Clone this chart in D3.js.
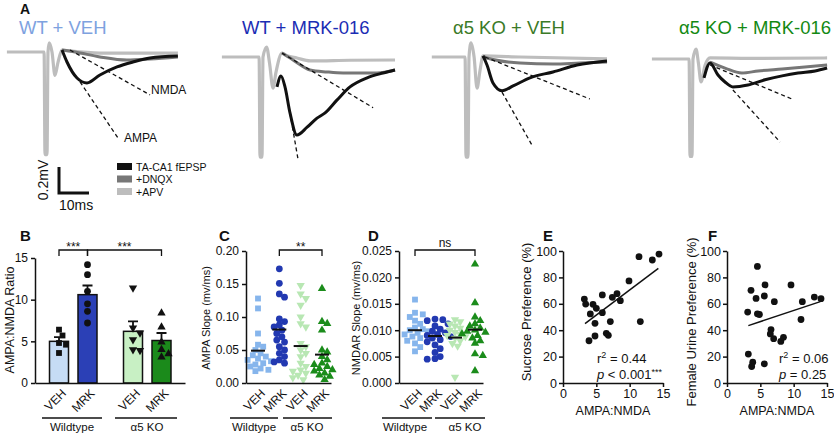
<!DOCTYPE html>
<html><head><meta charset="utf-8">
<script src="https://cdn.jsdelivr.net/npm/d3@7"></script>
<style>
body{margin:0;background:#fff}
svg{display:block}
text{font-family:"Liberation Sans",Arial,sans-serif;fill:#111}
</style>
</head><body>
<svg id="c" width="834" height="435"></svg>
<script>
// ================= DATA =================
// Panel A: traces, [time ms after stimulus, mV relative to baseline]
const traceTitles = ["WT + VEH", "WT + MRK-016", "α5 KO + VEH", "α5 KO + MRK-016"];
const legendLabels = ["TA-CA1 fEPSP", "+DNQX", "+APV"];

const apv_WT_VEH = [[-12.7,0],[-0.3,0],[0,-0.79],[0.67,-0.79],[1.0,0],[1.4,0.07],[2.33,0],[3.33,-0.18],[4.33,-0.08],[5.67,0.015],[8.3,0.008],[18.3,-0.008],[44.3,-0.008]];
const dnqx_WT_VEH = [[5.67,0.015],[10,0],[18.3,-0.038],[27.3,-0.062],[35,-0.054],[44.3,-0.038]];
const fepsp_WT_VEH = [[5.67,0.015],[7.33,-0.077],[10.67,-0.2],[14,-0.238],[18.3,-0.177],[24,-0.115],[29.3,-0.077],[35,-0.046],[44.3,-0.031]];
const nmdaFit_WT_VEH = [[8.33,0.015],[35,-0.33]];
const ampaFit_WT_VEH = [[11.67,-0.23],[24.3,-0.66]];

const apv_WT_MRK = [[-12.7,0],[-0.3,0],[0,-0.77],[0.67,-0.77],[1.0,0],[2.2,0.077],[3.2,-0.05],[4.33,-0.24],[5.3,-0.12],[7.33,0.03],[9,0.01],[12.3,-0.008],[16.7,-0.03],[30,-0.025],[45,-0.023]];
const dnqx_WT_MRK = [[7.33,0.03],[11,-0.023],[16.7,-0.1],[22.3,-0.115],[27.7,-0.123],[33.3,-0.123],[39,-0.123],[45,-0.1]];
const fepsp_WT_MRK = [[5.67,-0.23],[7,-0.146],[8.33,-0.23],[10,-0.43],[12.3,-0.6],[15.7,-0.54],[19,-0.47],[21.7,-0.43],[25.7,-0.33],[30,-0.23],[35.7,-0.16],[41,-0.123],[45,-0.1]];
const nmdaFit_WT_MRK = [[7.33,0.03],[37.7,-0.39]];
const ampaFit_WT_MRK = [[10,-0.43],[12.7,-0.79]];

const apv_KO_VEH = [[-11.4,0],[-0.3,0],[0,-0.77],[0.67,-0.77],[1.0,0],[1.67,0.108],[2.7,0],[3.67,-0.24],[4.7,-0.1],[5.67,0.008],[18,0],[47,-0.015]];
const dnqx_KO_VEH = [[5.67,0.008],[7,-0.008],[18,-0.046],[29,-0.054],[38,-0.046],[47,-0.038]];
const fepsp_KO_VEH = [[5.67,0.008],[7,-0.062],[9,-0.2],[12,-0.26],[15.7,-0.223],[21.3,-0.16],[29,-0.115],[37,-0.062],[47,-0.031]];
const nmdaFit_KO_VEH = [[6.33,0],[41.3,-0.323]];
const ampaFit_KO_VEH = [[12,-0.27],[22.3,-0.69]];

const apv_KO_MRK = [[-12.7,0],[-0.3,0],[0,-0.75],[0.67,-0.75],[1.0,0],[2,0.077],[2.8,-0.03],[3.67,-0.177],[5,-0.05],[6.67,0.008],[20,0.005],[45.7,0.008]];
const dnqx_KO_MRK = [[6.67,-0.023],[7.33,-0.03],[11.67,-0.07],[17.3,-0.108],[22.7,-0.092],[30.7,-0.077],[38.3,-0.062],[45.7,-0.046]];
const fepsp_KO_MRK = [[4.67,-0.146],[6.67,-0.03],[9.33,-0.123],[11.67,-0.177],[14.3,-0.215],[19.3,-0.2],[25,-0.16],[30.7,-0.13],[36,-0.108],[41.7,-0.092],[45.7,-0.069]];
const nmdaFit_KO_MRK = [[6.67,-0.046],[34,-0.308]];
const ampaFit_KO_MRK = [[14.3,-0.238],[30,-0.638]];

const scaleBarMs = 10, scaleBarMv = 0.2;

// Panels B-D
const groups = ["Wildtype", "α5 KO"];
const treatments = ["VEH", "MRK"];
const bMeans = [5.0, 10.6, 6.2, 5.1];
const bSem = [0.5, 1.1, 1.2, 0.9];
const bPts_WT_VEH = [6.4, 5.7, 4.8, 4.6, 3.6];
const bPts_WT_MRK = [14.2, 13.0, 11.0, 9.5, 8.6, 7.2];
const bPts_KO_VEH = [11.4, 6.6, 6.0, 5.2, 4.0, 3.9];
const bPts_KO_MRK = [8.4, 6.7, 4.9, 4.0, 3.5, 3.1];
const bTicks = [0, 5, 10, 15];

const cWT_VEH = [0.128,0.113,0.075,0.058,0.055,0.050,0.045,0.042,0.040,0.037,0.035,0.033,0.030,0.028,0.025,0.022,0.020,0.018];
const cWT_MRK = [0.173,0.151,0.135,0.130,0.097,0.093,0.088,0.085,0.080,0.075,0.070,0.065,0.062,0.055,0.050,0.045,0.040,0.035,0.032,0.030];
const cKO_VEH = [0.148,0.135,0.128,0.118,0.100,0.090,0.085,0.060,0.055,0.050,0.045,0.040,0.030,0.025,0.020,0.018,0.015,0.012,0.008,0.005];
const cKO_MRK = [0.143,0.093,0.090,0.080,0.050,0.047,0.040,0.035,0.030,0.028,0.025,0.022,0.020,0.018,0.015,0.012,0.010,0.005];
const cMeans = [0.049, 0.081, 0.056, 0.043];
const cTicks = [0, 0.05, 0.10, 0.15, 0.20];

const dWT_VEH = [0.0158,0.0133,0.0130,0.0125,0.0118,0.0112,0.0105,0.0102,0.0100,0.0098,0.0095,0.0092,0.0088,0.0085,0.0080,0.0075,0.0068,0.0060];
const dWT_MRK = [0.0121,0.0120,0.0118,0.0112,0.0108,0.0102,0.0098,0.0095,0.0092,0.0090,0.0088,0.0085,0.0082,0.0078,0.0072,0.0065,0.0058,0.0050,0.0046,0.0045];
const dKO_VEH = [0.0120,0.0116,0.0112,0.0108,0.0104,0.0100,0.0096,0.0092,0.0090,0.0088,0.0085,0.0080,0.0075,0.0070,0.0011];
const dKO_MRK = [0.0225,0.0152,0.0125,0.0118,0.0112,0.0108,0.0104,0.0100,0.0098,0.0096,0.0093,0.0090,0.0085,0.0080,0.0075,0.0055,0.0052,0.0023];
const dMeans = [0.0100, 0.0089, 0.0086, 0.0101];
const dTicks = [0, 0.005, 0.010, 0.015, 0.020, 0.025];

const sigLabels = ["***", "***", "**", "ns"];

// Panels E-F
const eX = [3.2,3.4,4.5,5.0,4.1,5.9,5.9,4.8,7.4,8.1,8.6,9.9,11.4,13.4,14.4,11.6,3.9,4.8,7.1,6.5,6.8];
const eY = [63.6,59.8,59.6,56.6,52.3,66.7,53.3,45.2,64.9,67.7,62.4,77.3,95.7,93.2,97.7,46.5,32,35.6,46.5,37.6,36.1];
const eFit = {intercept: 32.5, slope: 3.8, from: 3.3, to: 14.3};
const eStats = ["0.44", "< 0.001", "***"];
const fX = [4.56,3.6,4.36,5.7,5.6,3.1,4.56,4.86,7.1,9.6,11.3,13.1,14.1,11.1,6.6,6.5,7.0,8.07,8.47,3.2,3.86,3.7,5.6];
const fY = [88.3,70.2,64.1,74.3,65.9,53.7,52.4,51.9,61.6,74.3,61.6,65.1,63.9,48.1,40.5,37.2,33.6,31.5,34.6,21.9,15.8,12.5,14.5];
const fFit = {intercept: 38.1, slope: 1.68, from: 3.2, to: 14.0};
const fStats = ["0.06", "= 0.25", ""];
const xyTicksX = [0, 5, 10, 15];
const xyTicksY = [0, 20, 40, 60, 80, 100];

// ================= STYLE =================
const titleColors = ["#7ea2df", "#1b2db4", "#3b7a27", "#138913"];
const traceColors = {apv: "#bdbdbd", dnqx: "#777777", fepsp: "#111111"};
const barFill = ["#c6dcf5", "#2b40b6", "#c8f0c4", "#1b8a1b"];
const ptFill = ["#86b5ec", "#2239b1", "#b8e7b3", "#1b8c1b"];

const svg = d3.select("#c");

function txt(x, y, s, size, opts = {}) {
  const t = svg.append("text").attr("x", x).attr("y", y).attr("font-size", size).text(s);
  if (opts.anchor) t.attr("text-anchor", opts.anchor);
  if (opts.bold) t.attr("font-weight", "bold");
  if (opts.fill) t.style("fill", opts.fill);
  if (opts.transform) t.attr("transform", opts.transform).attr("x", null).attr("y", null);
  return t;
}

// ================= PANEL A =================
txt(20, 14, "A", 14, {bold: true});
const traceSets = [
  {apv: apv_WT_VEH, dnqx: dnqx_WT_VEH, fepsp: fepsp_WT_VEH, nmda: nmdaFit_WT_VEH, ampa: ampaFit_WT_VEH},
  {apv: apv_WT_MRK, dnqx: dnqx_WT_MRK, fepsp: fepsp_WT_MRK, nmda: nmdaFit_WT_MRK, ampa: ampaFit_WT_MRK},
  {apv: apv_KO_VEH, dnqx: dnqx_KO_VEH, fepsp: fepsp_KO_VEH, nmda: nmdaFit_KO_VEH, ampa: ampaFit_KO_VEH},
  {apv: apv_KO_MRK, dnqx: dnqx_KO_MRK, fepsp: fepsp_KO_MRK, nmda: nmdaFit_KO_MRK, ampa: ampaFit_KO_MRK}
];
const stimX = [45, 260, 466, 690];
const baseY = [52, 57, 57, 59];
const titleX = [19, 242, 453, 679];
const pxPerMs = 3, pxPerMv = 130;

traceSets.forEach((ts, i) => {
  const xs = d3.scaleLinear().domain([0, 1]).range([stimX[i], stimX[i] + pxPerMs]);
  const ys = d3.scaleLinear().domain([0, 1]).range([baseY[i], baseY[i] - pxPerMv]);
  const line = d3.line().x(d => xs(d[0])).y(d => ys(d[1])).curve(d3.curveMonotoneX);
  const g = svg.append("g");
  g.append("path").attr("d", line(ts.apv)).attr("fill", "none").attr("stroke", traceColors.apv).attr("stroke-width", 3.2).attr("stroke-linejoin", "round");
  g.append("path").attr("d", line(ts.dnqx)).attr("fill", "none").attr("stroke", traceColors.dnqx).attr("stroke-width", 3).attr("stroke-linejoin", "round");
  g.append("path").attr("d", line(ts.fepsp)).attr("fill", "none").attr("stroke", traceColors.fepsp).attr("stroke-width", 3).attr("stroke-linejoin", "round");
  const lin = d3.line().x(d => xs(d[0])).y(d => ys(d[1]));
  [ts.nmda, ts.ampa].forEach(f => {
    g.append("path").attr("d", lin(f)).attr("fill", "none").attr("stroke", "#111").attr("stroke-width", 1.3).attr("stroke-dasharray", "4,3");
  });
  txt(titleX[i], 33.5, traceTitles[i], 18.5, {fill: titleColors[i]});
  if (i === 0) {
    txt(xs(ts.nmda[1][0]) + 1, ys(ts.nmda[1][1]) - 1, "NMDA", 12);
    txt(xs(ts.ampa[1][0]) + 6, ys(ts.ampa[1][1]) + 4, "AMPA", 12);
    // scale bar
    const sbx = d3.scaleLinear().domain([0, 1]).range([59, 59 + pxPerMs]);
    const sby = d3.scaleLinear().domain([0, 1]).range([193, 193 - pxPerMv]);
    svg.append("path")
      .attr("d", `M${sbx(0)},${sby(scaleBarMv)}L${sbx(0)},${sby(0)}L${sbx(scaleBarMs)},${sby(0)}`)
      .attr("fill", "none").attr("stroke", "#111").attr("stroke-width", 3);
    txt(0, 0, scaleBarMv + "mV", 14, {anchor: "middle", transform: `translate(48,${(sby(0) + sby(scaleBarMv)) / 2}) rotate(-90)`});
    txt(sbx(0), 210, scaleBarMs + "ms", 14);
  }
});
// legend
const legColors = [traceColors.fepsp, traceColors.dnqx, traceColors.apv];
legendLabels.forEach((l, i) => {
  svg.append("rect").attr("x", 117).attr("y", 163 + i * 12.5).attr("width", 15).attr("height", 7).attr("fill", legColors[i]);
  txt(136, 170.5 + i * 12.5, l, 10.5);
});

// ================= helpers =================
function swarm(values, y, cx, size, step) {
  const pts = values.map(v => ({v, py: y(v)})).sort((a, b) => a.py - b.py);
  const placed = [];
  pts.forEach(p => {
    for (let k = 0; k < 40; k++) {
      const off = k === 0 ? 0 : (k % 2 ? 1 : -1) * Math.ceil(k / 2) * step;
      const x = cx + off;
      if (placed.every(q => Math.hypot(q.px - x, q.py - p.py) >= size)) { p.px = x; placed.push(p); break; }
    }
  });
  return placed;
}
const symbolTypes = [d3.symbolSquare, d3.symbolCircle, d3.symbolTriangle, d3.symbolTriangle];
const symbolSizes = [34, 36, 30, 30];
const symbolRot = [0, 0, 180, 0];
function drawPoints(pts, k, fill) {
  const sym = d3.symbol().type(symbolTypes[k]).size(symbolSizes[k]);
  svg.append("g").selectAll("path").data(pts).join("path")
    .attr("d", sym)
    .attr("transform", d => `translate(${d.px},${d.py}) rotate(${symbolRot[k]})`)
    .attr("fill", fill);
}
function styleAxis(g) {
  g.select(".domain").attr("stroke", "#111").attr("stroke-width", 1.5);
  g.selectAll(".tick line").attr("stroke", "#111").attr("stroke-width", 1.5);
  g.selectAll(".tick text").attr("font-size", 12).style("fill", "#111").attr("font-family", '"Liberation Sans",Arial,sans-serif');
}
function bracket(x1, x2, y, label, size) {
  svg.append("path").attr("d", `M${x1},${y + 6}V${y}H${x2}V${y + 6}`).attr("fill", "none").attr("stroke", "#111").attr("stroke-width", 1.3);
  txt((x1 + x2) / 2, label === "ns" ? y - 3 : y + 1, label, size, {anchor: "middle"});
}
function catLabels(xpos, labels) {
  labels.forEach((l, i) => {
    txt(0, 0, l, 12, {anchor: "end", transform: `translate(${xpos[i] + 8},394) rotate(-45)`});
  });
}
function groupLines(segs) {
  segs.forEach(s => {
    svg.append("line").attr("x1", s[0]).attr("x2", s[1]).attr("y1", 418).attr("y2", 418).attr("stroke", "#111").attr("stroke-width", 1.5);
    txt(s[2], 431, s[3], 11.5, {anchor: "middle"});
  });
}
function yTitle(x, yc, s, size) {
  txt(0, 0, s, size, {anchor: "middle", transform: `translate(${x},${yc}) rotate(-90)`});
}

// ================= PANEL B =================
txt(20, 241, "B", 15, {bold: true});
const bGX = d3.scalePoint().domain(groups).range([73.25, 147.25]);
const bTX = d3.scalePoint().domain(treatments).range([-14.25, 14.25]);
const bY = d3.scaleLinear().domain([0, 15]).range([383, 258]);
const bCats = [];
groups.forEach(g => treatments.forEach(t => bCats.push(bGX(g) + bTX(t))));
const bPts = [bPts_WT_VEH, bPts_WT_MRK, bPts_KO_VEH, bPts_KO_MRK];
const bSym = [0, 1, 2, 3];
bMeans.forEach((m, i) => {
  svg.append("rect").attr("x", bCats[i] - 9.5).attr("y", bY(m)).attr("width", 19).attr("height", bY(0) - bY(m))
    .attr("fill", barFill[i]).attr("stroke", "#111").attr("stroke-width", 1.5);
  svg.append("path").attr("d", `M${bCats[i]},${bY(m)}V${bY(m + bSem[i])}M${bCats[i] - 5},${bY(m + bSem[i])}H${bCats[i] + 5}`)
    .attr("stroke", "#111").attr("stroke-width", 1.8).attr("fill", "none");
  drawPoints(swarm(bPts[i], bY, bCats[i], 6.5, 3.5), bSym[i], "#111");
});
const bAx = svg.append("g").attr("transform", "translate(35,0)").call(d3.axisLeft(bY).tickValues(bTicks).tickSize(4).tickSizeOuter(0).tickPadding(3));
styleAxis(bAx);
const bXs = d3.scaleLinear().domain([0, 1]).range([35, 185]);
const bXa = svg.append("g").attr("transform", `translate(0,${bY(0)})`).call(d3.axisBottom(bXs).tickValues([]).tickSizeOuter(0));
styleAxis(bXa);
yTitle(14, 320, "AMPA:NMDA Ratio", 12.5);
catLabels(bCats, ["VEH", "MRK", "VEH", "MRK"]);
groupLines([[42, 102, 72, groups[0]], [115, 177, 147, groups[1]]]);
bracket(bCats[0], bCats[1], 250, sigLabels[0], 12);
bracket(bCats[1], bCats[3], 250, sigLabels[1], 12);

// ================= PANEL C & D (scatter dot plots) =================
function dotPanel(opt) {
  txt(opt.labelX, 241, opt.label, 15, {bold: true});
  const y = d3.scaleLinear().domain(opt.domain).range([383, 251]);
  const x = d3.scalePoint().domain(["WT VEH", "WT MRK", "KO VEH", "KO MRK"]).range(opt.catRange);
  const xs = x.domain().map(d => x(d));
  opt.series.forEach((vals, i) => {
    drawPoints(swarm(vals, y, xs[i], 5.5, 2.6), i, ptFill[i]);
    svg.append("line").attr("x1", xs[i] - 7).attr("x2", xs[i] + 7).attr("y1", y(opt.means[i])).attr("y2", y(opt.means[i]))
      .attr("stroke", "#111").attr("stroke-width", 2);
  });
  const ya = svg.append("g").attr("transform", `translate(${opt.axisX},0)`)
    .call(d3.axisLeft(y).tickValues(opt.ticks).tickFormat(d3.format(opt.fmt)).tickSize(4).tickSizeOuter(0).tickPadding(3));
  styleAxis(ya);
  const xl = d3.scaleLinear().domain([0, 1]).range([opt.axisX, opt.axisEnd]);
  const xa = svg.append("g").attr("transform", `translate(0,383)`).call(d3.axisBottom(xl).tickValues([]).tickSizeOuter(0));
  styleAxis(xa);
  yTitle(opt.titleX, 318, opt.title, 11);
  catLabels(xs, ["VEH", "MRK", "VEH", "MRK"]);
  groupLines(opt.groupSegs);
  bracket(xs[opt.br[0]], xs[opt.br[1]], 250, opt.sig, 12);
}
dotPanel({label: "C", labelX: 219, domain: [0, 0.2], catRange: [258, 322], series: [cWT_VEH, cWT_MRK, cKO_VEH, cKO_MRK],
  means: cMeans, axisX: 246, axisEnd: 331, ticks: cTicks, fmt: ".2f", titleX: 210, title: "AMPA Slope (mv/ms)",
  groupSegs: [[230, 278, 254, groups[0]], [283, 332, 307, groups[1]]], br: [1, 3], sig: sigLabels[2]});
dotPanel({label: "D", labelX: 368, domain: [0, 0.025], catRange: [415, 475], series: [dWT_VEH, dWT_MRK, dKO_VEH, dKO_MRK],
  means: dMeans, axisX: 399, axisEnd: 483, ticks: dTicks, fmt: ".3f", titleX: 360, title: "NMDAR Slope (mv/ms)",
  groupSegs: [[382, 432, 405, groups[0]], [435, 485, 465, groups[1]]], br: [0, 3], sig: sigLabels[3]});

// ================= PANEL E & F (correlations) =================
function xyPanel(opt) {
  txt(opt.labelX, 241, opt.label, 15, {bold: true});
  const x = d3.scaleLinear().domain([0, 15]).range([opt.axisX, opt.axisX + 100]);
  const y = d3.scaleLinear().domain([0, 100]).range([383, 251]);
  const ya = svg.append("g").attr("transform", `translate(${opt.axisX},0)`)
    .call(d3.axisLeft(y).tickValues(xyTicksY).tickSize(4).tickSizeOuter(0).tickPadding(2));
  styleAxis(ya);
  const xa = svg.append("g").attr("transform", `translate(0,383)`)
    .call(d3.axisBottom(x).tickValues(xyTicksX).tickSize(4).tickSizeOuter(0).tickPadding(2));
  styleAxis(xa);
  xa.selectAll(".tick text").attr("font-size", 12.5);
  ya.selectAll(".tick text").attr("font-size", 12.5);
  svg.append("g").selectAll("circle").data(opt.xs).join("circle")
    .attr("cx", d => x(d)).attr("cy", (d, i) => y(opt.ys[i])).attr("r", 3.4).attr("fill", "#111");
  const f = opt.fit;
  svg.append("line").attr("x1", x(f.from)).attr("y1", y(f.intercept + f.slope * f.from))
    .attr("x2", x(f.to)).attr("y2", y(f.intercept + f.slope * f.to)).attr("stroke", "#111").attr("stroke-width", 1.5);
  txt(x(15) - 50, 415, "AMPA:NMDA", 12.5, {anchor: "middle"});
  yTitle(opt.titleX, opt.titleY, opt.title, 13);
  const t1 = svg.append("text").attr("x", opt.statX).attr("y", 363).attr("font-size", 13);
  t1.append("tspan").text("r");
  t1.append("tspan").attr("font-size", 9).attr("dy", -5).text("2");
  t1.append("tspan").attr("dy", 5).text(" = " + opt.stats[0]);
  const t2 = svg.append("text").attr("x", opt.statX).attr("y", 379).attr("font-size", 13);
  t2.append("tspan").attr("font-style", "italic").text("p");
  t2.append("tspan").text(" " + opt.stats[1]);
  if (opt.stats[2]) t2.append("tspan").attr("font-size", 9).attr("dy", -4).text(opt.stats[2]);
}
xyPanel({label: "E", labelX: 543, axisX: 563, xs: eX, ys: eY, fit: eFit, titleX: 531, titleY: 312,
  title: "Sucrose Preference (%)", statX: 597, stats: eStats});
xyPanel({label: "F", labelX: 708, axisX: 727, xs: fX, ys: fY, fit: fFit, titleX: 696, titleY: 322,
  title: "Female Urine Preference (%)", statX: 779, stats: fStats});
</script>
</body></html>
